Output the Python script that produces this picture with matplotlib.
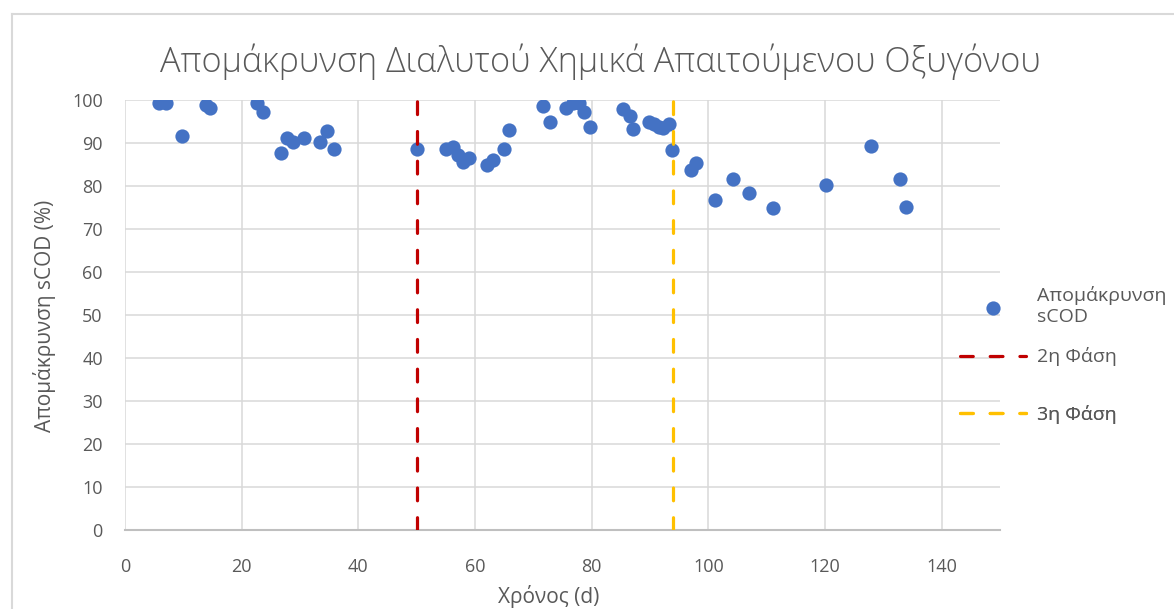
# -*- coding: utf-8 -*-
import numpy as np
import matplotlib
matplotlib.use("Agg")
import matplotlib.pyplot as plt
from matplotlib.lines import Line2D

plt.rcParams['font.family'] = ['Open Sans', 'DejaVu Sans']

# Ημέρες λειτουργίας (d) και απομάκρυνση sCOD (%)
days = [5.9, 7.0, 9.8, 13.9, 14.5, 22.7, 23.6, 26.7, 27.8, 28.8, 30.6, 33.5, 34.7, 35.8,
        50.0, 55.1, 56.2, 57.0, 57.9, 59.0, 62.0, 63.1, 64.9, 65.9,
        71.7, 72.8, 75.6, 76.8, 77.9, 78.6, 79.7,
        85.3, 86.5, 87.1, 89.9, 90.7, 91.6, 92.3, 93.3, 93.8,
        97.1, 97.9, 101.2, 104.2, 107.0, 111.1, 120.2, 127.8, 132.9, 133.9]
removal = [99.2, 99.2, 91.7, 98.8, 98.1, 99.2, 97.2, 87.7, 91.2, 90.2, 91.2, 90.2, 92.7, 88.6,
           88.5, 88.5, 89.0, 87.1, 85.5, 86.5, 85.0, 86.0, 88.5, 93.1,
           98.7, 94.8, 98.1, 99.2, 99.2, 97.2, 93.7,
           97.8, 96.3, 93.2, 94.8, 94.4, 93.8, 93.6, 94.4, 88.4,
           83.7, 85.4, 76.7, 81.7, 78.3, 74.8, 80.3, 89.4, 81.7, 75.1]

phase2_day = 50
phase3_day = 94

x_ticks = [0, 20, 40, 60, 80, 100, 120, 140]
y_ticks = [0, 10, 20, 30, 40, 50, 60, 70, 80, 90, 100]

txt = '#595959'
grid = '#D9D9D9'

fig = plt.figure(figsize=(11.74, 6.09), dpi=100)
ax = fig.add_axes([125/1174, 1 - 530/609, 875/1174, 430/609])

ax.set_xlim(0, 150)
ax.set_ylim(0, 100)
ax.set_xticks(x_ticks)
ax.set_yticks(y_ticks)
ax.grid(True, color=grid, lw=1.1)
ax.set_axisbelow(True)
ax.tick_params(length=0, labelsize=13, colors=txt)
ax.tick_params(axis='y', pad=16)
ax.tick_params(axis='x', pad=20)
for s in ['top', 'right', 'left']:
    ax.spines[s].set_visible(False)
ax.spines['bottom'].set_color('#BFBFBF')
ax.spines['bottom'].set_linewidth(1.5)

sc = ax.scatter(days, removal, s=105, color='#4472C4', zorder=3, linewidths=0)
l2 = ax.axvline(phase2_day, color='#C00000', lw=2.3, ls=(0, (4, 5.3)),
                dash_capstyle='round', zorder=4)
l3 = ax.axvline(phase3_day, color='#FFC000', lw=2.3, ls=(0, (4, 5.3)),
                dash_capstyle='round', zorder=4)

fig.text(600/1174, 1 - 62/609, 'Απομάκρυνση Διαλυτού Χημικά Απαιτούμενου Οξυγόνου',
         ha='center', va='center', fontsize=24.7, color=txt, fontweight='light')
fig.text(549/1174, 1 - 596/609, 'Χρόνος (d)', ha='center', va='center',
         fontsize=15, color=txt)
fig.text(45/1174, 1 - 316/609, 'Απομάκρυνση sCOD (%)', ha='center', va='center',
         rotation=90, fontsize=15, color=txt)

# legend entries placed one by one (uneven spacing like the original)
entries = [(sc, 'Απομάκρυνση\nsCOD', 306), (l2, '2η Φάση', 357), (l3, '3η Φάση', 414)]
for h, lab, ypix in entries:
    lg = ax.legend([h], [lab], loc='center left', frameon=False,
                   bbox_to_anchor=(960/1174, 1 - ypix/609), bbox_transform=fig.transFigure,
                   borderpad=0, borderaxespad=0, handlelength=3.4, handletextpad=0.55,
                   fontsize=14, labelcolor=txt, scatterpoints=1)
    ax.add_artist(lg)

# outer chart frame
fig.add_artist(Line2D([12/1174, 1], [1 - 14/609, 1 - 14/609], color=grid, lw=1.5,
                      transform=fig.transFigure))
fig.add_artist(Line2D([12/1174, 12/1174], [0, 1 - 14/609], color=grid, lw=1.5,
                      transform=fig.transFigure))

fig.savefig('out.png', dpi=100)
